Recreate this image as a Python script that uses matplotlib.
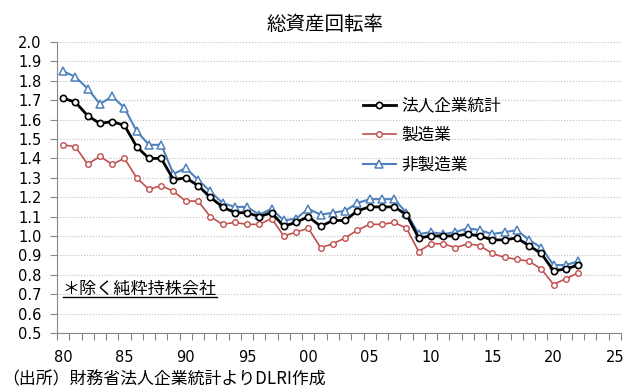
import matplotlib.pyplot as plt
import numpy as np

plt.rcParams['font.family'] = ['Noto Sans CJK JP', 'DejaVu Sans']

# データ（年度）
years = list(range(1980, 2023))

# 法人企業統計（全産業）
all_ind = [1.71, 1.69, 1.62, 1.58, 1.59, 1.57, 1.46, 1.40, 1.40, 1.29,
           1.30, 1.26, 1.20, 1.15, 1.12, 1.12, 1.10, 1.12, 1.05, 1.07,
           1.10, 1.05, 1.08, 1.08, 1.13, 1.15, 1.15, 1.15, 1.11, 0.99,
           1.00, 1.00, 1.00, 1.01, 1.00, 0.98, 0.98, 0.99, 0.95, 0.91,
           0.82, 0.83, 0.85]

# 製造業
manuf = [1.47, 1.46, 1.37, 1.41, 1.37, 1.40, 1.30, 1.24, 1.26, 1.23,
         1.18, 1.18, 1.10, 1.06, 1.07, 1.06, 1.06, 1.09, 1.00, 1.02,
         1.04, 0.94, 0.96, 0.99, 1.03, 1.06, 1.06, 1.07, 1.04, 0.92,
         0.96, 0.96, 0.94, 0.96, 0.95, 0.91, 0.89, 0.88, 0.87, 0.83,
         0.75, 0.78, 0.81]

# 非製造業
nonmanuf = [1.85, 1.82, 1.76, 1.68, 1.72, 1.66, 1.54, 1.47, 1.47, 1.32,
            1.35, 1.29, 1.23, 1.17, 1.15, 1.15, 1.11, 1.14, 1.08, 1.09,
            1.14, 1.11, 1.12, 1.13, 1.17, 1.19, 1.19, 1.19, 1.12, 1.01,
            1.02, 1.01, 1.02, 1.04, 1.03, 1.01, 1.02, 1.03, 0.98, 0.94,
            0.85, 0.85, 0.87]

labels = ["法人企業統計", "製造業", "非製造業"]
xtick_years = list(range(1980, 2026, 5))

fig = plt.figure(figsize=(6.37, 3.91), dpi=100)
ax = fig.add_axes([57 / 637, 1 - 333 / 391, 564 / 637, 291 / 391])

ax.plot(years, all_ind, color="black", lw=2.0, marker="o", ms=4.5,
        mfc="white", mec="black", mew=1.2, label=labels[0], zorder=4)
ax.plot(years, manuf, color="#C0504D", lw=1.2, marker="o", ms=4,
        mfc="white", mec="#C0504D", mew=1.0, label=labels[1], zorder=3)
ax.plot(years, nonmanuf, color="#4F81BD", lw=1.5, marker="^", ms=5.5,
        mfc="white", mec="#4F81BD", mew=1.1, label=labels[2], zorder=3)

ax.set_xlim(1979.5, 2025.5)
ax.set_ylim(0.5, 2.0)
ax.set_yticks(np.arange(0.5, 2.01, 0.1))
ax.set_yticklabels([f"{v:.1f}" for v in np.arange(0.5, 2.01, 0.1)],
                   family="DejaVu Sans", fontsize=10.5)
ax.set_xticks(xtick_years)
ax.set_xticklabels([f"{y % 100:02d}" for y in xtick_years],
                   family="DejaVu Sans", fontsize=10.5)
ax.set_xticks(np.arange(1979.5, 2026, 1), minor=True)
ax.tick_params(axis="x", which="major", length=0, pad=12)
ax.tick_params(axis="x", which="minor", length=5, color="#868686", width=0.8)
ax.tick_params(axis="y", which="major", length=5, color="#868686",
               width=0.8, pad=6)

ax.grid(axis="y", color="#BFBFBF", ls=":", lw=0.8)
ax.set_axisbelow(True)
for s in ["top", "right"]:
    ax.spines[s].set_visible(False)
for s in ["left", "bottom"]:
    ax.spines[s].set_color("#868686")
    ax.spines[s].set_linewidth(0.8)

ax.legend(loc="upper left", bbox_to_anchor=(0.542, 0.809), frameon=False,
          fontsize=12, handlelength=2.0, handletextpad=0.3,
          labelspacing=0.75, borderpad=0, borderaxespad=0)

fig.text(325 / 637, 1 - 25 / 391, "総資産回転率", ha="center", va="center",
         fontsize=14)

note = ax.text(0.01, (0.727 - 0.5) / 1.5, "＊除く純粋持株会社",
               transform=ax.transAxes, ha="left", va="center", fontsize=12.3)
fig.canvas.draw()
bb = note.get_window_extent().transformed(fig.transFigure.inverted())
fig.add_artist(plt.Line2D([bb.x0, bb.x1], [bb.y0 + 0.002, bb.y0 + 0.002],
                          color="black", lw=1.0, transform=fig.transFigure))

fig.text(2 / 637, 1 - 379 / 391, "（出所）財務省法人企業統計よりDLRI作成",
         ha="left", va="center", fontsize=12.2)

fig.savefig("out.png", dpi=100)
